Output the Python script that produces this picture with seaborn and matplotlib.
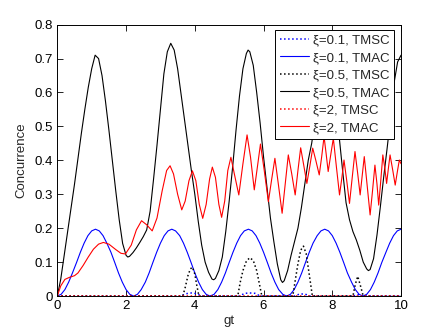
import matplotlib
matplotlib.use("Agg")
import matplotlib.pyplot as plt
import seaborn as sns

# ---------------- data ----------------
x_ticks = [0, 2, 4, 6, 8, 10]
y_ticks = [0, 0.1, 0.2, 0.3, 0.4, 0.5, 0.6, 0.7, 0.8]
y_tick_labels = ["0", "0.1", "0.2", "0.3", "0.4", "0.5", "0.6", "0.7", "0.8"]

labels = ["ξ=0.1, TMSC", "ξ=0.1, TMAC", "ξ=0.5, TMSC",
          "ξ=0.5, TMAC", "ξ=2, TMSC", "ξ=2, TMAC"]

# xi = 0.1, TMAC (blue solid)
blue_t = [0.00, 0.11, 0.22, 0.33, 0.44, 0.56, 0.67, 0.78, 0.89, 1.00,
          1.11, 1.22, 1.33, 1.44, 1.56, 1.67, 1.78, 1.89, 2.00, 2.11,
          2.22, 2.33, 2.44, 2.56, 2.67, 2.78, 2.89, 3.00, 3.11, 3.22,
          3.33, 3.44, 3.56, 3.67, 3.78, 3.89, 4.00, 4.11, 4.22, 4.33,
          4.44, 4.56, 4.67, 4.78, 4.89, 5.00, 5.11, 5.22, 5.33, 5.44,
          5.56, 5.67, 5.78, 5.89, 6.00, 6.11, 6.22, 6.33, 6.44, 6.56,
          6.67, 6.78, 6.89, 7.00, 7.11, 7.22, 7.33, 7.44, 7.56, 7.67,
          7.78, 7.89, 8.00, 8.11, 8.22, 8.33, 8.44, 8.56, 8.67, 8.78,
          8.89, 9.00, 9.11, 9.22, 9.33, 9.44, 9.56, 9.67, 9.78, 9.89,
          10.00]
blue_v = [0, 0.005, 0.019, 0.041, 0.068, 0.099, 0.129, 0.156, 0.178, 0.192,
          0.197, 0.192, 0.178, 0.156, 0.129, 0.099, 0.068, 0.041, 0.019, 0.005,
          0, 0.005, 0.019, 0.041, 0.068, 0.099, 0.129, 0.156, 0.178, 0.192,
          0.197, 0.192, 0.178, 0.156, 0.129, 0.099, 0.068, 0.041, 0.019, 0.005,
          0, 0.005, 0.019, 0.041, 0.068, 0.099, 0.129, 0.156, 0.178, 0.192,
          0.197, 0.192, 0.178, 0.156, 0.129, 0.099, 0.068, 0.041, 0.019, 0.005,
          0, 0.005, 0.019, 0.041, 0.068, 0.099, 0.129, 0.156, 0.178, 0.192,
          0.197, 0.192, 0.178, 0.156, 0.129, 0.099, 0.068, 0.041, 0.019, 0.005,
          0, 0.005, 0.019, 0.041, 0.068, 0.099, 0.129, 0.156, 0.178, 0.192,
          0.197]

# xi = 0.1, TMSC (blue dotted)
blued_t = [0, 3.6, 3.75, 3.9, 4.05, 4.2, 5.3, 5.45, 5.6, 5.75, 5.9,
           6.9, 7.05, 7.2, 7.35, 8.6, 8.75, 8.9, 10]
blued_v = [0, 0, 0.007, 0.009, 0.007, 0, 0, 0.008, 0.009, 0.008, 0,
           0, 0.006, 0.006, 0, 0, 0.004, 0, 0]

# xi = 0.5, TMAC (black solid)
black_t = [0, 0.1, 0.2, 0.3, 0.4, 0.5, 0.6, 0.7, 0.8, 0.9, 1.0, 1.1, 1.2,
           1.3, 1.4, 1.5, 1.6, 1.7, 1.8, 1.9, 2.0, 2.05, 2.1, 2.2, 2.3,
           2.4, 2.5, 2.6, 2.7, 2.8, 2.9, 3.0, 3.1, 3.2, 3.3, 3.4, 3.5,
           3.6, 3.7, 3.8, 3.9, 4.0, 4.1, 4.2, 4.3, 4.4, 4.5, 4.55, 4.6,
           4.7, 4.8, 4.9, 5.0, 5.1, 5.2, 5.3, 5.4, 5.5, 5.55, 5.6, 5.7,
           5.8, 5.9, 6.0, 6.1, 6.2, 6.3, 6.4, 6.5, 6.55, 6.6, 6.7, 6.8,
           6.9, 7.0, 7.1, 7.2, 7.3, 7.4, 7.5, 7.6, 7.7, 7.75, 7.8, 7.9,
           8.0, 8.1, 8.2, 8.3, 8.4, 8.5, 8.6, 8.7, 8.8, 8.9, 9.0, 9.05,
           9.1, 9.2, 9.3, 9.4, 9.5, 9.6, 9.7, 9.8, 9.9, 10.0]
black_v = [0, 0.05, 0.12, 0.19, 0.26, 0.33, 0.405, 0.48, 0.55, 0.615, 0.67,
           0.71, 0.70, 0.65, 0.575, 0.49, 0.40, 0.31, 0.225, 0.155, 0.12,
           0.115, 0.117, 0.128, 0.142, 0.158, 0.175, 0.195, 0.25, 0.345,
           0.445, 0.55, 0.655, 0.72, 0.745, 0.725, 0.67, 0.595, 0.52, 0.445,
           0.37, 0.30, 0.22, 0.15, 0.10, 0.07, 0.05, 0.048, 0.052, 0.075,
           0.115, 0.19, 0.28, 0.38, 0.49, 0.59, 0.67, 0.715, 0.725, 0.72,
           0.68, 0.60, 0.51, 0.41, 0.32, 0.23, 0.16, 0.095, 0.048, 0.04,
           0.045, 0.075, 0.12, 0.16, 0.20, 0.26, 0.33, 0.40, 0.45, 0.52,
           0.62, 0.70, 0.72, 0.715, 0.67, 0.60, 0.53, 0.47, 0.37, 0.275,
           0.225, 0.19, 0.165, 0.135, 0.10, 0.08, 0.075, 0.078, 0.11, 0.18,
           0.265, 0.355, 0.44, 0.53, 0.63, 0.69, 0.71]

# xi = 0.5, TMSC (black dotted)
blackd_t = [0, 3.65, 3.72, 3.8, 3.87, 3.93, 4.0, 4.06, 4.12, 5.25, 5.32,
            5.4, 5.5, 5.6, 5.7, 5.8, 5.88, 5.95, 6.85, 6.92, 7.0, 7.08,
            7.16, 7.24, 7.32, 7.42, 8.6, 8.67, 8.74, 8.82, 8.9, 10]
blackd_v = [0, 0, 0.025, 0.06, 0.08, 0.085, 0.065, 0.03, 0, 0, 0.04,
            0.075, 0.103, 0.113, 0.105, 0.075, 0.035, 0, 0, 0.045, 0.095,
            0.135, 0.147, 0.125, 0.07, 0, 0, 0.035, 0.058, 0.03, 0, 0]

# xi = 2, TMAC (red solid)
red_t = [0, 0.1, 0.22, 0.35, 0.5, 0.6, 0.75, 0.9, 1.05, 1.2, 1.34, 1.5,
         1.7, 1.85, 1.98, 2.15, 2.3, 2.45, 2.6, 2.76, 2.9, 3.05, 3.18,
         3.28, 3.38, 3.5, 3.62, 3.72, 3.83, 3.93, 4.03, 4.13, 4.23, 4.33,
         4.43, 4.51, 4.6, 4.7, 4.78, 4.87, 4.96, 5.05, 5.15, 5.28, 5.4,
         5.52, 5.62, 5.73, 5.82, 5.91, 6.02, 6.14, 6.23, 6.33, 6.43, 6.54,
         6.63, 6.72, 6.82, 6.92, 7.0, 7.08, 7.17, 7.26, 7.35, 7.43, 7.52,
         7.62, 7.69, 7.76, 7.82, 7.88, 7.96, 8.03, 8.12, 8.21, 8.28, 8.34,
         8.42, 8.5, 8.58, 8.66, 8.74, 8.81, 8.87, 8.93, 9.01, 9.1, 9.17,
         9.24, 9.3, 9.35, 9.41, 9.47, 9.53, 9.58, 9.63, 9.68, 9.76, 9.83,
         9.89, 9.95, 10.0]
red_v = [0, 0.03, 0.049, 0.055, 0.06, 0.068, 0.09, 0.115, 0.138, 0.153,
         0.158, 0.153, 0.137, 0.126, 0.124, 0.15, 0.195, 0.222, 0.21, 0.192,
         0.23, 0.31, 0.37, 0.384, 0.36, 0.30, 0.254, 0.28, 0.34, 0.369, 0.34,
         0.27, 0.229, 0.27, 0.345, 0.38, 0.35, 0.27, 0.232, 0.28, 0.37,
         0.409, 0.36, 0.298, 0.39, 0.475, 0.41, 0.313, 0.38, 0.448, 0.37,
         0.278, 0.34, 0.406, 0.33, 0.244, 0.33, 0.416, 0.36, 0.298, 0.37,
         0.437, 0.385, 0.332, 0.385, 0.436, 0.40, 0.357, 0.41, 0.47, 0.42,
         0.367, 0.42, 0.465, 0.38, 0.298, 0.35, 0.401, 0.34, 0.273, 0.35,
         0.426, 0.36, 0.298, 0.355, 0.411, 0.33, 0.239, 0.31, 0.386, 0.33,
         0.268, 0.34, 0.416, 0.375, 0.332, 0.375, 0.416, 0.37, 0.327,
         0.365, 0.401, 0.39]

# xi = 2, TMSC (red dotted)
redd_t = [0, 10]
redd_v = [0, 0]

# ---------------- drawing ----------------
sns.set_style("ticks")
plt.rcParams["font.family"] = ["Liberation Sans", "DejaVu Sans"]

fig = plt.figure(figsize=(4.43, 3.33), dpi=100)
ax = fig.add_axes([0.1294, 0.111, 0.7759, 0.815])

series = [
    (blued_t, blued_v, "#0000ff", ":", labels[0]),
    (blue_t, blue_v, "#0000ff", "-", labels[1]),
    (blackd_t, blackd_v, "#000000", ":", labels[2]),
    (black_t, black_v, "#000000", "-", labels[3]),
    (redd_t, redd_v, "#ff0000", ":", labels[4]),
    (red_t, red_v, "#ff0000", "-", labels[5]),
]
for t, v, c, ls, lab in series:
    sns.lineplot(x=t, y=v, ax=ax, color=c, linestyle=ls, linewidth=0.8,
                 label=lab, sort=False, estimator=None)
for line in ax.get_lines():
    line.set_solid_joinstyle("round")
    if line.get_linestyle() == ":":
        line.set_linewidth(1.1)

ax.set_xlim(0, 10)
ax.set_ylim(0, 0.8)
ax.set_xticks(x_ticks)
ax.set_xticklabels([str(v) for v in x_ticks])
ax.set_yticks(y_ticks)
ax.set_yticklabels(y_tick_labels)
ax.tick_params(direction="in", length=4, width=0.6, top=True, right=True,
               labelsize=9.5, colors="black", pad=3)
for s in ax.spines.values():
    s.set_visible(True)
    s.set_linewidth(0.7)
    s.set_color("black")

ax.set_xlabel("gt", fontsize=9.5, labelpad=2)
ax.set_ylabel("Concurrence", fontsize=9.5, labelpad=5)

leg = ax.legend(loc="upper right", bbox_to_anchor=(0.98, 0.982),
                borderaxespad=0, frameon=True, fancybox=False,
                edgecolor="black", framealpha=1, fontsize=9.5,
                handlelength=2.2, handletextpad=0.3, labelspacing=0.4,
                borderpad=0.35)
leg.get_frame().set_linewidth(0.7)

fig.savefig("out.png", dpi=100)
